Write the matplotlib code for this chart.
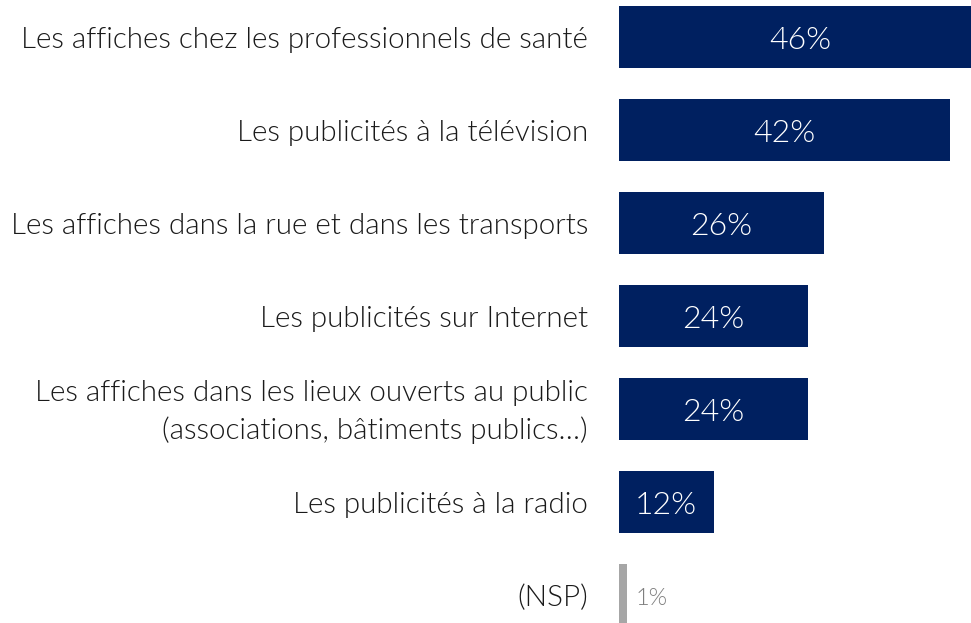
import matplotlib
matplotlib.use("Agg")
import matplotlib.pyplot as plt

plt.rcParams.update({"font.family": ["Lato", "DejaVu Sans"]})

labels = [
    "Les affiches chez les professionnels de santé",
    "Les publicités à la télévision",
    "Les affiches dans la rue et dans les transports",
    "Les publicités sur Internet",
    "Les affiches dans les lieux ouverts au public\n(associations, bâtiments publics…)",
    "Les publicités à la radio",
    "(NSP)",
]
values = [46, 42, 26, 24, 24, 12, 1]
colors = ["#002060"] * 6 + ["#A6A6A6"]

W, H = 971, 623
fig = plt.figure(figsize=(W / 100, H / 100), dpi=100)
ax = fig.add_axes([619 / W, 0, 1 - 619 / W, 1])

ypos = list(range(len(values)))
ax.barh(ypos, values, height=0.667, color=colors, linewidth=0)
ax.set_xlim(0, (W - 619) / 7.88)
ax.set_ylim(6.301, -0.398)
ax.axis("off")

for y, v, lab in zip(ypos, values, labels):
    if v > 5:
        ax.text(v / 2, y + 0.04, f"{v}%", color="white", fontsize=23, weight=300,
                ha="center", va="center")
    else:
        ax.text(v + 1.1, y + 0.04, f"{v}%", color="#7F7F7F", fontsize=17, weight=300,
                ha="left", va="center")
    ax.text(-31 / 7.88, y + 0.03, lab, color="#1A1A1A", fontsize=21.3, weight=300,
            ha="right", va="center", multialignment="right", linespacing=1.45)

fig.savefig("out.png", dpi=100)
